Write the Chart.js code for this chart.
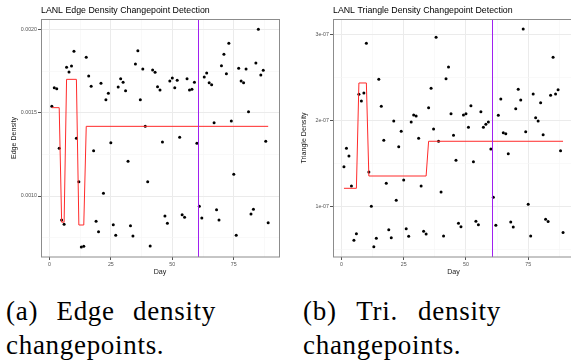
<!DOCTYPE html>
<html><head><meta charset="utf-8">
<script src="https://cdn.jsdelivr.net/npm/chart.js@4.4.1/dist/chart.umd.min.js"></script>
<style>
html,body{margin:0;padding:0;background:#fff;width:571px;height:364px;overflow:hidden;position:relative}
.p{position:absolute;top:0;height:285px;overflow:hidden}
.cap{position:absolute;font-family:'Liberation Serif','Times New Roman',serif;font-size:27px;line-height:28px;letter-spacing:0.7px;color:#000;white-space:nowrap}
.j{text-align:justify;text-align-last:justify;white-space:normal}
</style></head><body>
<div class="p" style="left:0;width:290px"><canvas id="c1" width="290" height="285"></canvas></div>
<div class="p" style="left:290px;width:281px"><canvas id="c2" width="295" height="285"></canvas></div>
<div class="cap j" style="left:6px;top:296.5px;width:210px">(a) Edge density</div>
<div class="cap" style="left:6px;top:331px">changepoints.</div>
<div class="cap j" style="left:303px;top:296.5px;width:198px">(b) Tri. density</div>
<div class="cap" style="left:303px;top:331px">changepoints.</div>
<script>
const days = [1,2,3,4,5,6,7,8,9,10,11,12,13,14,15,16,17,18,19,20,21,22,23,24,25,26,27,28,29,30,
  31,32,33,34,35,36,37,38,39,40,41,42,43,44,45,46,47,48,49,50,51,52,53,54,55,56,57,58,59,60,
  61,62,63,64,65,66,67,68,69,70,71,72,73,74,75,76,77,78,79,80,81,82,83,84,85,86,87,88,89];
const edgeDensity = [0.001538,0.00165,0.001644,0.001286,0.000856,0.00083,0.001772,0.001744,0.00178,0.001868,
  0.001347,0.001086,0.000694,0.000698,0.001832,0.00172,0.001658,0.001272,0.000848,0.000786,
  0.001676,0.001016,0.001578,0.001616,0.00132,0.000828,0.000764,0.001654,0.001704,0.001682,
  0.001632,0.001208,0.000822,0.00076,0.001792,0.001872,0.001578,0.001762,0.001418,0.001086,
  0.0007,0.001756,0.001742,0.001656,0.001636,0.001324,0.00088,0.000836,0.00169,0.001708,
  0.00165,0.001694,0.001352,0.000888,0.000872,0.001704,0.001636,0.00164,0.001682,0.001316,
  0.000938,0.000868,0.001714,0.001738,0.00168,0.001668,0.00144,0.000918,0.000856,0.001782,
  0.00185,0.001734,0.001916,0.00145,0.00113,0.000764,0.001766,0.00169,0.00168,0.001762,
  0.001506,0.000892,0.00092,0.001798,0.002,0.001726,0.001754,0.001328,0.00084];
const triDensity = [1.46e-7,1.674e-7,1.585e-7,1.236e-7,0.605e-7,0.681e-7,2.302e-7,2.224e-7,2.317e-7,2.895e-7,
  1.399e-7,1.0e-7,0.53e-7,0.628e-7,2.477e-7,2.163e-7,1.767e-7,1.267e-7,0.728e-7,0.635e-7,
  1.992e-7,1.07e-7,1.693e-7,1.872e-7,1.306e-7,0.74e-7,0.651e-7,1.98e-7,2.062e-7,2.05e-7,
  1.79e-7,1.236e-7,0.71e-7,0.678e-7,2.147e-7,2.372e-7,1.899e-7,2.965e-7,1.756e-7,1.166e-7,
  0.655e-7,2.484e-7,2.62e-7,2.077e-7,1.826e-7,1.535e-7,0.802e-7,0.763e-7,2.062e-7,2.077e-7,
  1.919e-7,2.17e-7,1.519e-7,0.826e-7,0.786e-7,2.1e-7,1.919e-7,1.953e-7,1.98e-7,1.666e-7,
  1.105e-7,0.779e-7,2.058e-7,2.248e-7,1.856e-7,1.844e-7,1.612e-7,0.817e-7,0.759e-7,2.135e-7,
  2.36e-7,2.236e-7,3.062e-7,1.867e-7,1.023e-7,0.655e-7,2.306e-7,2.03e-7,1.992e-7,2.205e-7,
  1.833e-7,0.849e-7,0.822e-7,2.29e-7,2.733e-7,2.306e-7,2.356e-7,1.647e-7,0.694e-7];
const edgeFitDays = [1,4,5,6,7,11,12,14,15,89];
const edgeFitValues = [0.00153,0.00153,0.000843,0.000843,0.0017,0.0017,0.000826,0.000826,0.001418,0.001418];
const triFitDays = [1,6,7,10,11,34,35,89];
const triFitValues = [1.209e-7,1.209e-7,2.434e-7,2.434e-7,1.352e-7,1.352e-7,1.756e-7,1.756e-7];
const changepointDay = 61;
const dayTicks = [0,25,50,75];
const dayTickLabels = ['0','25','50','75'];
const dayMinorTicks = [12.5,37.5,62.5,87.5];
const edgeTicks = [0.0010,0.0015,0.0020];
const edgeTickLabels = ['0.0010','0.0015','0.0020'];
const edgeMinorTicks = [0.00075,0.00125,0.00175];
const triTicks = [1e-7,2e-7,3e-7];
const triTickLabels = ['1e-07','2e-07','3e-07'];
const triMinorTicks = [0.5e-7,1.5e-7,2.5e-7];

const SANS = "'Liberation Sans', Arial, sans-serif";
function findIdx(v, arr){ for(let i=0;i<arr.length;i++){ if(Math.abs(arr[i]-v) <= Math.abs(arr[i])*1e-6+1e-15) return i; } return -1; }

const panelPlugin = {
  id: 'panel',
  afterDatasetsDraw(chart, args, opts){
    const {ctx, chartArea:a} = chart;
    const px = Math.round(chart.scales.x.getPixelForValue(opts.cp)) - 0.5;
    ctx.save();
    ctx.strokeStyle = '#a020f0'; ctx.lineWidth = 1;
    ctx.beginPath(); ctx.moveTo(px, a.top); ctx.lineTo(px, a.bottom); ctx.stroke();
    ctx.strokeStyle = '#8c8c8c'; ctx.lineWidth = 1;
    ctx.strokeRect(Math.round(a.left) + 0.5, Math.round(a.top) + 0.5, Math.round(a.right - a.left), Math.round(a.bottom - a.top) - 0.5);
    ctx.restore();
  },
  afterDraw(chart, args, opts){
    const {ctx, chartArea:a} = chart;
    ctx.save();
    ctx.font = '8.8px ' + SANS; ctx.fillStyle = '#000'; ctx.textBaseline = 'alphabetic'; ctx.textAlign = 'left';
    ctx.fillText(opts.title, a.left, 13.3);
    ctx.restore();
  }
};

function gridOpts(major){
  return {
    color: c => (c.tick && findIdx(c.tick.value, major) >= 0) ? '#ebebeb' : '#f5f5f5',
    lineWidth: c => (c.tick && findIdx(c.tick.value, major) >= 0) ? 1 : 0.6,
    tickColor: c => (c.tick && findIdx(c.tick.value, major) >= 0) ? '#555' : 'rgba(0,0,0,0)',
    tickLength: 3, drawTicks: true
  };
}

function makeChart(id, cfg){
  const pts = days.map((d,i) => ({x:d, y:cfg.values[i]}));
  const fit = cfg.fitDays.map((d,i) => ({x:d, y:cfg.fitValues[i]}));
  return new Chart(document.getElementById(id), {
    type: 'scatter',
    data: { datasets: [
      {type:'scatter', data: pts, pointRadius:1.5, pointBackgroundColor:'#000', pointBorderWidth:0, order:2},
      {type:'line', data: fit, borderColor:'#ff2a2a', borderWidth:1, pointRadius:0, fill:false, tension:0, order:1}
    ]},
    options: {
      responsive:false, animation:false, events:[],
      layout:{padding:{top:19, right:11, left:0, bottom:0}},
      plugins:{legend:{display:false}, tooltip:{enabled:false}, title:{display:false},
        panel:{cp: changepointDay, title: cfg.title}},
      scales:{
        x:{type:'linear', min:-3.4, max:93.4,
          afterBuildTicks: s => { s.ticks = dayTicks.concat(dayMinorTicks).sort((a,b)=>a-b).map(v=>({value:v})); },
          afterFit: s => { s.height = 28; },
          ticks:{autoSkip:false, maxRotation:0, padding:1, color:'#555', font:{family:SANS, size:5.3},
            callback: v => { const k = findIdx(v, dayTicks); return k>=0 ? dayTickLabels[k] : ''; }},
          grid: gridOpts(dayTicks),
          border:{display:false},
          title:{display:true, text:'Day', color:'#1a1a1a', font:{family:SANS, size:7.1}, padding:{top:0, bottom:9}}
        },
        y:{type:'linear', min:cfg.yMin, max:cfg.yMax,
          afterBuildTicks: s => { s.ticks = cfg.yTicks.concat(cfg.yMinor).sort((a,b)=>a-b).map(v=>({value:v})); },
          afterFit: s => { s.width = cfg.yAxisW; },
          ticks:{autoSkip:false, padding:1, color:'#555', font:{family:SANS, size:5.3},
            callback: v => { const k = findIdx(v, cfg.yTicks); return k>=0 ? cfg.yLabels[k] : ''; }},
          grid: gridOpts(cfg.yTicks),
          border:{display:false},
          title:{display:true, text:cfg.yTitle, color:'#1a1a1a', font:{family:SANS, size:7.1}, padding:{top:9.5, bottom:0}}
        }
      }
    },
    plugins:[panelPlugin]
  });
}

makeChart('c1', {title:'LANL Edge Density Changepoint Detection', yTitle:'Edge Density',
  values: edgeDensity, fitDays: edgeFitDays, fitValues: edgeFitValues,
  yTicks: edgeTicks, yLabels: edgeTickLabels, yMinor: edgeMinorTicks, yMin:0.000634, yMax:0.002062, yAxisW:41});
makeChart('c2', {title:'LANL Triangle Density Changepoint Detection', yTitle:'Triangle Density',
  values: triDensity, fitDays: triFitDays, fitValues: triFitValues,
  yTicks: triTicks, yLabels: triTickLabels, yMinor: triMinorTicks, yMin:0.41e-7, yMax:3.178e-7, yAxisW:43});
</script>
</body></html>
